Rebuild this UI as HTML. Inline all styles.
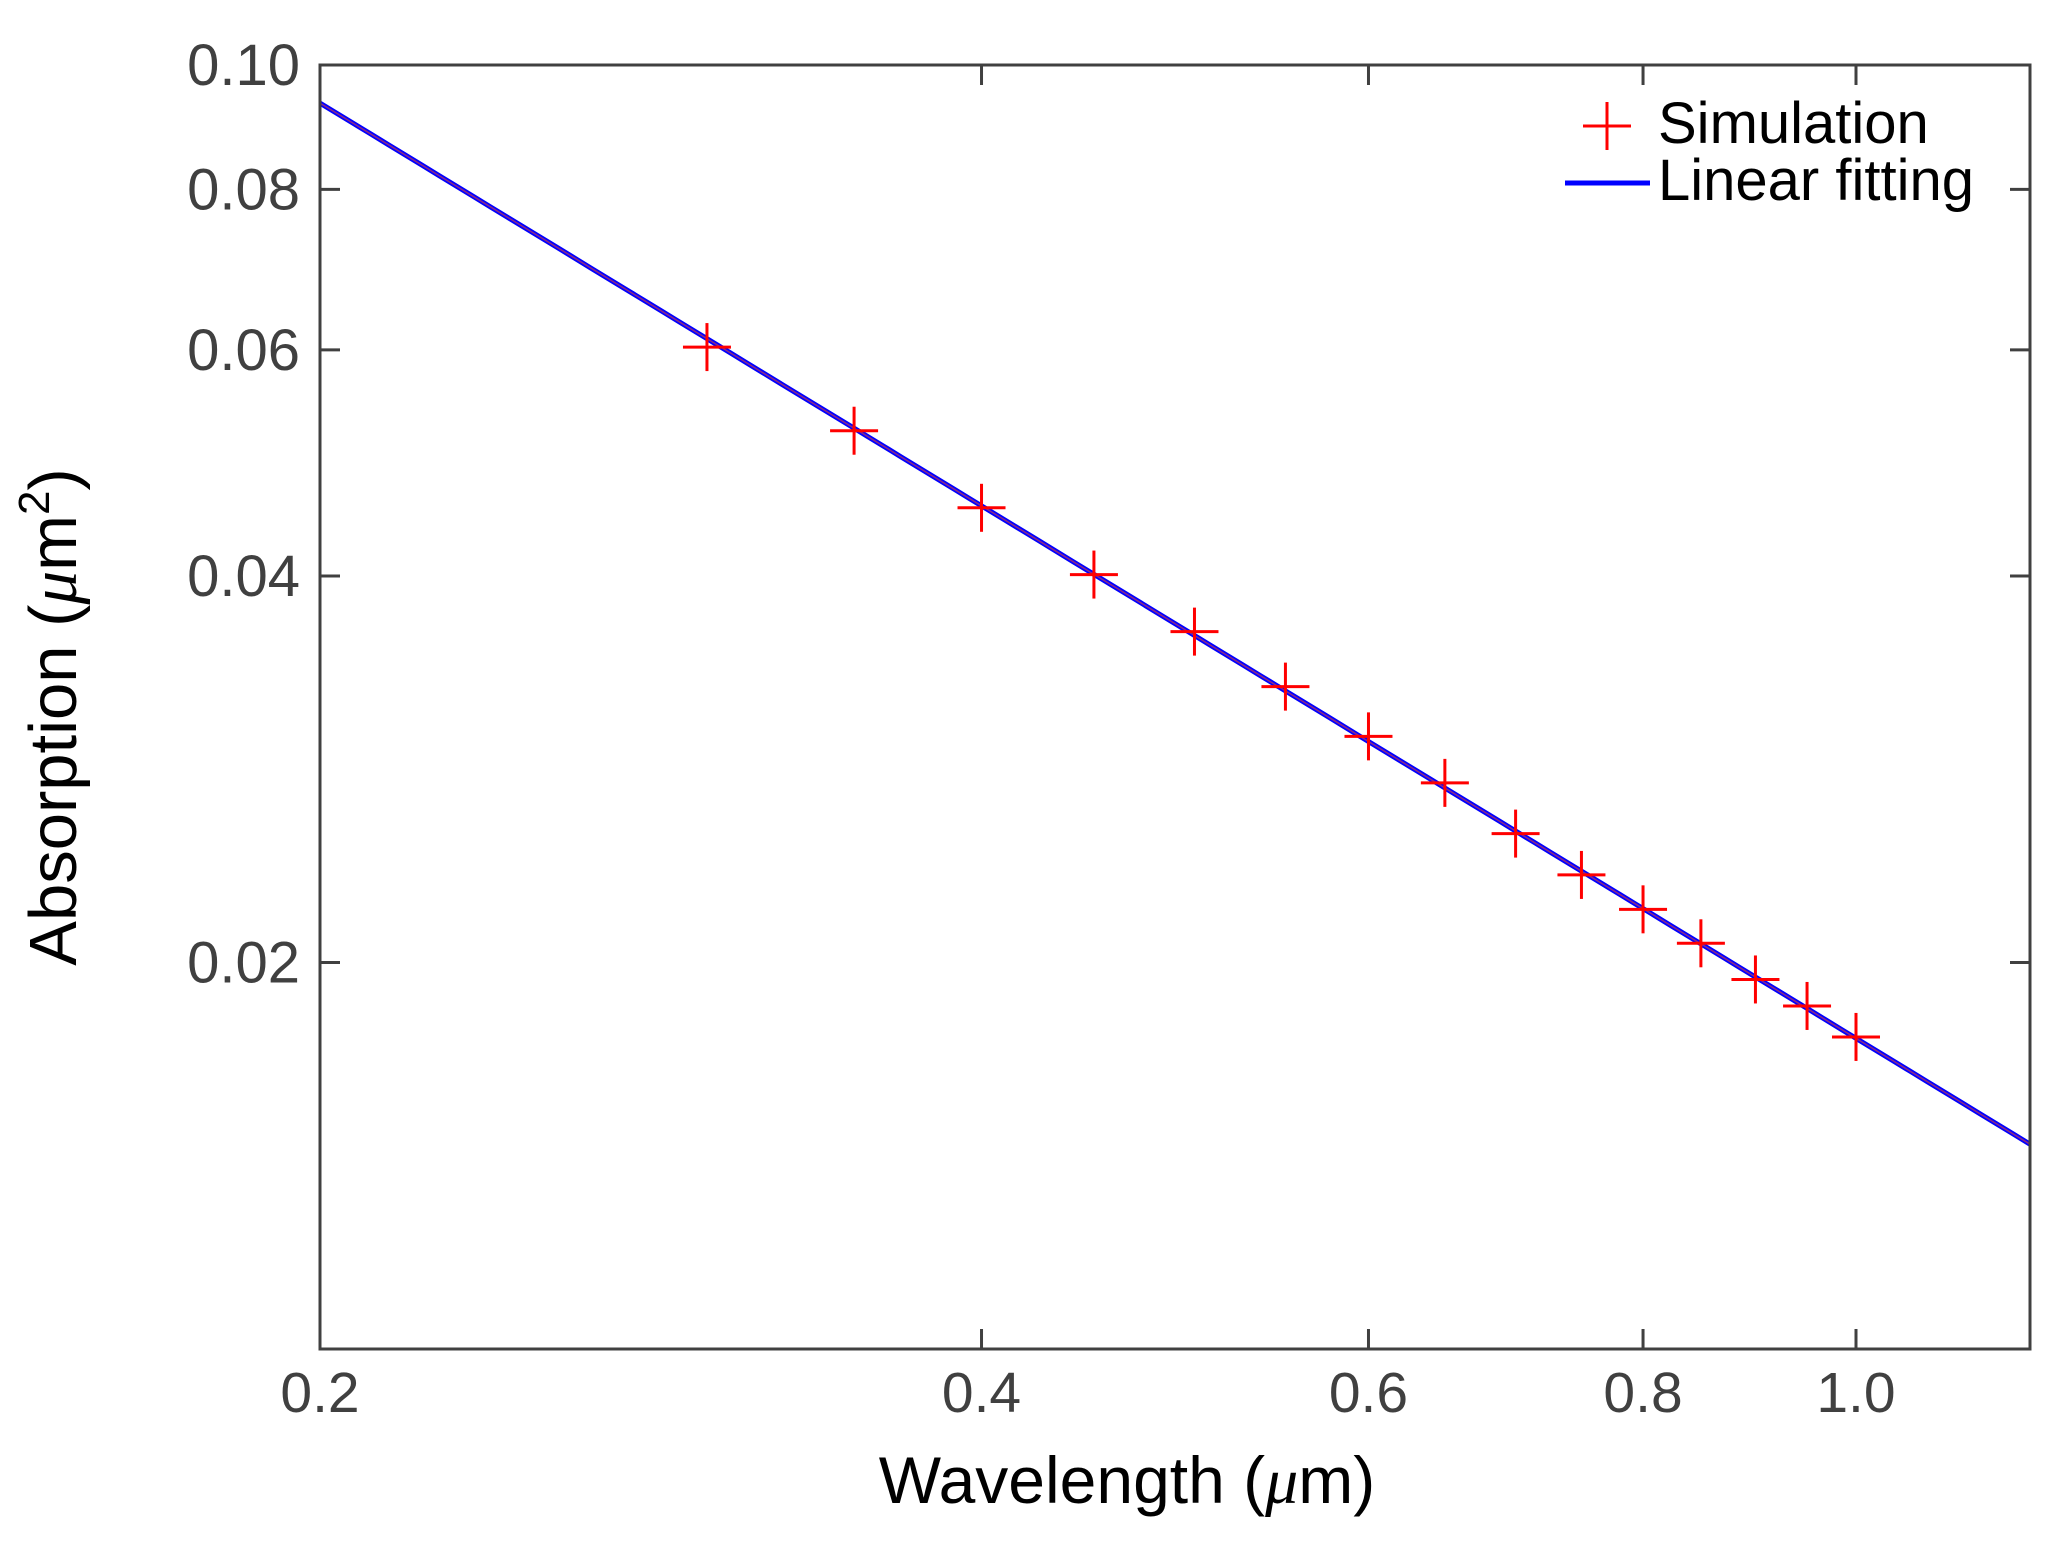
<!DOCTYPE html>
<html><head><meta charset="utf-8"><style>
html,body{margin:0;padding:0;background:#fff;}
svg{display:block;font-family:"Liberation Sans",Arial,sans-serif;}
</style></head><body>
<svg id="chart" width="2066" height="1541" viewBox="0 0 2066 1541" xmlns="http://www.w3.org/2000/svg">
<rect width="2066" height="1541" fill="#fff"/>
<g id="marks"></g>
<g id="axes"></g>
<text x="1127" y="1503" font-size="66" text-anchor="middle" fill="#000">Wavelength (<tspan font-family="Liberation Serif" font-style="italic">μ</tspan>m)</text>
<text transform="translate(76,717) rotate(-90)" font-size="67" text-anchor="middle" fill="#000">Absorption (<tspan font-family="Liberation Serif" font-style="italic">μ</tspan>m<tspan font-size="44" dy="-27">2</tspan><tspan dy="27">)</tspan></text>
<g>
<g>
<line x1="1583" y1="126" x2="1631" y2="126" stroke="#ff0000" stroke-width="3"/>
<line x1="1607" y1="102" x2="1607" y2="150" stroke="#ff0000" stroke-width="3"/>
<text x="1658" y="143" font-size="58" fill="#000">Simulation</text>
</g>
<g>
<line x1="1565" y1="183" x2="1650" y2="183" stroke="#0000ff" stroke-width="5"/>
<text x="1658" y="200" font-size="58" fill="#000">Linear fitting</text>
</g>
</g>
</svg>
<script>
const simX = [0.30,0.35,0.40,0.45,0.50,0.55,0.60,0.65,0.70,0.75,0.80,0.85,0.90,0.95,1.00];
const simY = [0.0603,0.0519,0.0452,0.0401,0.0362,0.0328,0.0300,0.0276,0.0252,0.0234,0.0220,0.0207,0.0194,0.0185,0.0175];
const fitCoef = [0.0934];
const fitExp = [-1.042];
const fitRef = [0.2];
const xTicks = [0.2,0.4,0.6,0.8,1.0];
const xTickLabels = ["0.2","0.4","0.6","0.8","1.0"];
const yTicks = [0.02,0.04,0.06,0.08,0.10];
const yTickLabels = ["0.02","0.04","0.06","0.08","0.10"];
const xDomain = [0.2,1.2];
const yDomain = [0.01,0.1];

const NS = "http://www.w3.org/2000/svg";
const L = 320, R = 2030, T = 65, B = 1349;
function sx(v){return L + (Math.log10(v)-Math.log10(xDomain[0]))/(Math.log10(xDomain[1])-Math.log10(xDomain[0]))*(R-L);}
function sy(v){return B - (Math.log10(v)-Math.log10(yDomain[0]))/(Math.log10(yDomain[1])-Math.log10(yDomain[0]))*(B-T);}
function mk(tag, attrs, parent){const e=document.createElementNS(NS,tag);for(const k in attrs)e.setAttribute(k,attrs[k]);parent.appendChild(e);return e;}

const marks = document.getElementById('marks');
const axes = document.getElementById('axes');

const pts=[];
for(let i=0;i<=100;i++){
  const x = xDomain[0]*Math.pow(xDomain[1]/xDomain[0], i/100);
  const y = fitCoef[0]*Math.pow(x/fitRef[0], fitExp[0]);
  pts.push(sx(x).toFixed(1)+","+sy(y).toFixed(1));
}
const fl = mk('polyline',{points:pts.join(' '),fill:'none',stroke:'#0000ff','stroke-width':5},marks);


const fl2 = mk('polyline',{points:pts.join(' '),fill:'none',stroke:'#8a2a8a','stroke-width':1.5},marks);



simX.forEach((x,i)=>{
  const cx=sx(x), cy=sy(simY[i]);
  const g=mk('g',{stroke:'#ff0000','stroke-width':3},marks);
  
  
  mk('line',{x1:cx-24,y1:cy,x2:cx+24,y2:cy},g);
  mk('line',{x1:cx,y1:cy-24,x2:cx,y2:cy+24},g);
});

const box = mk('rect',{x:L,y:T,width:R-L,height:B-T,fill:'none',stroke:'#404040','stroke-width':3},axes);



xTicks.forEach((v,i)=>{
  const x=sx(v);
  mk('line',{x1:x,y1:B,x2:x,y2:B-20,stroke:'#404040','stroke-width':3},axes);
  mk('line',{x1:x,y1:T,x2:x,y2:T+20,stroke:'#404040','stroke-width':3},axes);
  const t=mk('text',{x:x,y:1412,'font-size':57,'text-anchor':'middle',fill:'#404040'},axes);
  t.textContent=xTickLabels[i];
  
  
});
yTicks.forEach((v,i)=>{
  const y=sy(v);
  mk('line',{x1:L,y1:y,x2:L+20,y2:y,stroke:'#404040','stroke-width':3},axes);
  mk('line',{x1:R,y1:y,x2:R-20,y2:y,stroke:'#404040','stroke-width':3},axes);
  const t=mk('text',{x:300,y:y+20,'font-size':58,'text-anchor':'end',fill:'#404040'},axes);
  t.textContent=yTickLabels[i];
  
  
});
</script>
</body></html>
